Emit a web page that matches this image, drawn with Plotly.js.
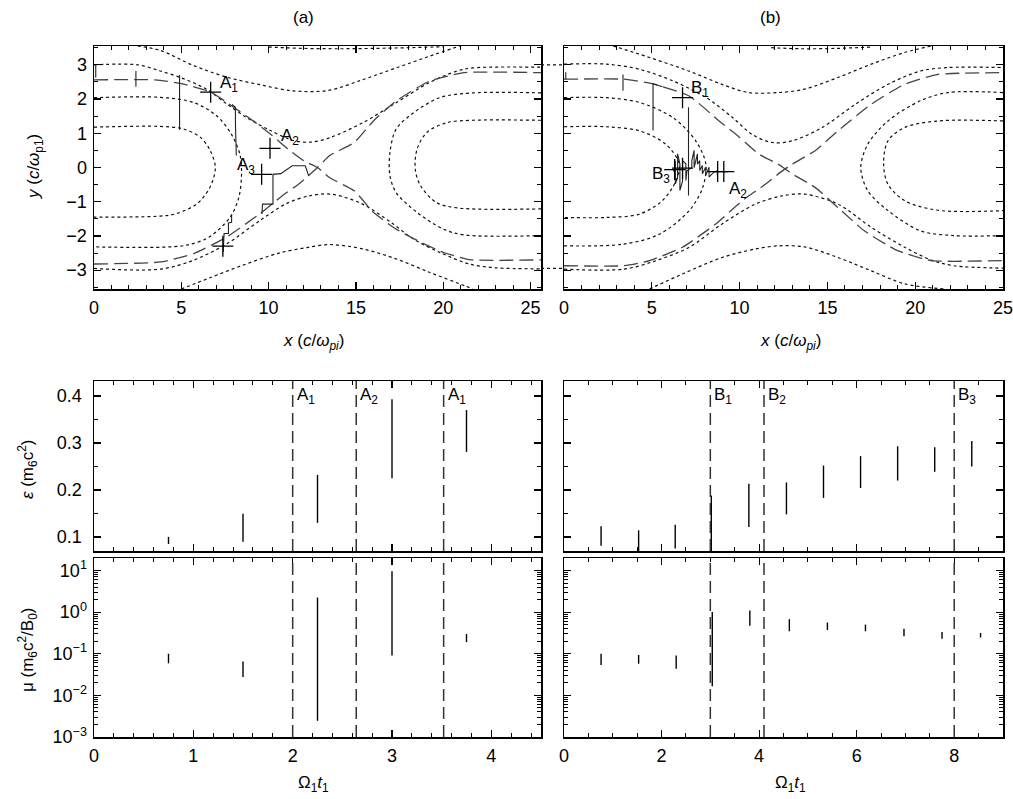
<!DOCTYPE html>
<html><head><meta charset="utf-8">
<script src="https://cdn.plot.ly/plotly-3.0.1.min.js"></script>
<style>html,body{margin:0;padding:0;background:#fff}#plot{width:1013px;height:799px}</style>
</head><body><div id="plot"></div>
<script>
// ---------- Panel (a): field lines (dotted), separatrix (dashed), trajectory ----------
const aTopOuterX = [2.5,3.8,5.7,7.6,9.5,11.4,13.4,15.3,17.3,19.2,21.0];
const aTopOuterY = [3.55,3.42,2.98,2.64,2.42,2.24,2.25,2.55,2.91,3.25,3.56];
const aTopEdgeX = [10.0,12.0,14.0,16.0,18.0,20.0];
const aTopEdgeY = [3.52,3.48,3.47,3.48,3.50,3.53];
const aO1UpX = [0,2.5,3.8,5.0,6.4,7.6,8.7,10.1,11.4,12.4,13.5,15.4,17.3,19.2,20.8,21.7,25.6];
const aO1UpY = [3.0,3.0,2.82,2.62,2.3,1.86,1.47,1.08,0.79,0.74,0.87,1.31,1.89,2.48,2.82,2.91,2.93];
const aC2X = [0,3.8,5.7,7.0,7.8,8.35,8.45,8.3,7.8,6.6,5.3,3.8,0];
const aC2Y = [2.04,2.05,1.9,1.52,1.03,0.4,-0.18,-0.86,-1.45,-2.03,-2.27,-2.33,-2.32];
const aC1X = [0,3.8,5.1,6.1,6.65,6.95,6.65,5.9,4.7,3.8,0];
const aC1Y = [1.18,1.2,1.13,0.88,0.5,0.0,-0.57,-1.06,-1.35,-1.42,-1.45];
const aO1LowX = [0,3.8,5.7,7.6,9.5,11.0,12.4,13.6,15.3,17.0,18.3,19.8,21.5,23.0,25.6];
const aO1LowY = [-2.95,-2.97,-2.71,-2.23,-1.55,-1.06,-0.82,-0.78,-1.05,-1.6,-2.09,-2.48,-2.82,-2.93,-2.96];
const aBotOuterX = [5.0,6.6,8.6,10.6,12.2,13.5,15.4,17.3,19.2,21.2,21.7];
const aBotOuterY = [-3.55,-3.23,-2.84,-2.5,-2.34,-2.25,-2.38,-2.67,-3.06,-3.45,-3.55];
const aR2X = [25.6,21.7,19.8,18.3,17.3,16.95,16.95,17.3,18.5,20.0,21.2,25.6];
const aR2Y = [2.18,2.18,2.04,1.6,1.12,0.44,-0.24,-0.73,-1.31,-1.8,-1.97,-1.99];
const aR1X = [25.6,21.7,20.2,19.05,18.5,18.4,18.7,19.6,20.8,25.6];
const aR1Y = [1.38,1.38,1.31,1.02,0.53,-0.05,-0.53,-1.02,-1.18,-1.21];
const aSepULX = [0,3.5,5.0,6.7,8.0,9.1,10.1,11.2,12.0,12.8,13.5,14.9,16.0,17.3,18.7,20.0,21.5,25.6];
const aSepULY = [2.56,2.56,2.45,2.2,1.76,1.37,0.98,0.5,0.2,0.0,-0.3,-0.68,-1.31,-1.8,-2.18,-2.48,-2.69,-2.70];
const aSepLLX = [0,3.8,5.7,7.6,9.5,10.7,11.8,12.8,13.5,14.9,16.0,17.3,19.2,21.2,25.6];
const aSepLLY = [-2.82,-2.76,-2.52,-2.03,-1.35,-0.86,-0.45,0.0,0.35,0.73,1.36,1.94,2.52,2.77,2.77];
const aTrajX = [0.1,0.1,null,2.4,2.4,null,4.9,4.9,null,7.9,8.1,8.1,8.15,null,7.4,7.42,7.45,7.7,7.7,7.88,7.88,null,9.62,9.65,10.25,10.25,10.7,11.1,11.35,12.1,12.3];
const aTrajY = [3.0,2.62,null,2.82,2.36,null,2.7,1.1,null,1.84,1.76,1.3,0.35,null,-2.47,-2.13,-1.93,-1.93,-1.62,-1.6,-1.38,null,-1.36,-1.07,-1.07,-0.2,-0.18,-0.04,0.05,0.05,-0.25];
const aCrossX = [6.68,10.08,9.6,7.38];
const aCrossY = [2.2,0.56,-0.2,-2.3];
const aLabelText = ['A<sub>1</sub>','A<sub>2</sub>','A<sub>3</sub>'];
const aLabelX = [7.1,10.6,9.35];
const aLabelY = [2.45,0.88,0.05];
const aLabelAnchor = ['left','left','right'];

// ---------- Panel (b) ----------
const bTopOuterX = [2.8,4.3,7.1,9.0,10.5,12.2,13.7,15.6,17.5,19.4,20.9];
const bTopOuterY = [3.55,3.31,2.82,2.43,2.19,2.19,2.29,2.63,3.02,3.36,3.55];
const bTopEdgeX = [11.8,13.5,15.5,17.5];
const bTopEdgeY = [3.5,3.47,3.48,3.52];
const bO1UpX = [0,2.4,4.3,6.2,8.1,9.6,10.7,11.85,13.0,14.7,16.6,18.45,20.3,21.85,25];
const bO1UpY = [3.02,3.02,2.87,2.53,2.04,1.46,0.97,0.73,0.78,1.17,1.85,2.43,2.82,2.92,2.92];
const bSepULX = [0,3.4,5.0,7.13,8.83,10.0,11.1,12.2,13.0,14.3,15.6,17.1,19.0,20.9,25];
const bSepULY = [2.58,2.58,2.45,2.09,1.36,0.88,0.39,0.1,-0.19,-0.58,-1.17,-1.85,-2.43,-2.72,-2.72];
const bSepLLX = [0,3.4,4.87,6.75,8.64,10.15,11.47,12.3,13.0,14.3,15.6,17.5,19.4,21.3,25];
const bSepLLY = [-2.87,-2.87,-2.72,-2.33,-1.65,-0.97,-0.49,-0.15,0.1,0.49,1.07,1.85,2.43,2.72,2.77];
const bC2X = [0,2.4,4.3,6.2,7.5,8.08,7.9,7.13,5.43,3.36,0];
const bC2Y = [2.04,2.04,1.9,1.46,0.78,0.1,-0.58,-1.26,-1.95,-2.24,-2.29];
const bC1X = [0,2.4,4.3,5.8,6.57,6.38,5.6,4.3,2.4,0];
const bC1Y = [1.19,1.19,1.07,0.68,0.1,-0.39,-0.97,-1.36,-1.46,-1.46];
const bO1LowX = [0,3.4,5.25,7.13,9.0,10.9,12.4,13.7,15.6,17.5,19.4,21.0,22.2,25];
const bO1LowY = [-2.97,-2.97,-2.72,-2.33,-1.65,-1.07,-0.83,-0.78,-1.07,-1.75,-2.33,-2.72,-2.87,-2.94];
const bBotOuterX = [4.87,6.75,9.0,10.9,12.2,13.7,15.6,17.5,19.4,21.7];
const bBotOuterY = [-3.55,-3.11,-2.63,-2.38,-2.29,-2.32,-2.63,-3.02,-3.4,-3.55];
const bR2X = [25,21.85,20.3,18.45,17.3,16.9,17.3,18.45,20.3,22.2,25];
const bR2Y = [2.19,2.19,1.95,1.36,0.68,0.0,-0.68,-1.26,-1.85,-1.99,-1.99];
const bR1X = [25,21.3,19.4,18.45,18.2,18.45,19.4,21.3,25];
const bR1Y = [1.36,1.36,1.17,0.78,0.1,-0.49,-0.97,-1.25,-1.26];
const bTrajX = [0.1,0.1,null,3.36,3.36,null,5.6,5.07,5.07,null,7.09,7.09,null,
  6.2,6.34,6.34,6.34,6.47,6.47,6.6,6.6,6.75,6.75,6.94,6.94,7.0,7.28,7.28,7.41,7.41,7.6,7.6,7.73,7.73,7.88,7.88,8.07,8.07,8.26,8.26,8.5,8.73,8.73];
const bTrajY = [2.78,2.58,null,2.72,2.24,null,2.36,2.45,1.08,null,1.76,-0.82,null,
  -0.1,-0.1,0.2,-0.48,-0.3,0.4,0.1,-0.67,-0.4,0.2,0.11,-0.38,-0.1,0.0,0.2,0.5,0.0,0.4,0.1,0.2,-0.09,0.06,-0.18,0.01,-0.23,0.01,-0.28,-0.15,-0.09,-0.23];
const bCrossX = [6.75,6.3,6.75,8.75,9.1];
const bCrossY = [2.04,-0.06,-0.02,-0.12,-0.12];
const bLabelText = ['B<sub>1</sub>','B<sub>3</sub>','A<sub>2</sub>'];
const bLabelX = [7.1,6.15,9.3];
const bLabelY = [2.3,-0.22,-0.66];
const bLabelAnchor = ['left','right','left'];

// field lines that cross the gap between panels (a) and (b)
const gapY = [3.0, -2.95];

// ---------- Lower panels: energy and magnetic moment ranges ----------
const aT = [0.75,1.5,2.25,3.0,3.75];
const aEpsLo = [0.085,0.0895,0.130,0.225,0.281];
const aEpsHi = [0.100,0.1495,0.232,0.393,0.370];
const aMuLo = [0.059,0.0275,0.00245,0.091,0.19];
const aMuHi = [0.100,0.065,2.24,9.6,0.30];
const aEvents = [2.0,2.64,3.52];
const aEventText = ['A<sub>1</sub>','A<sub>2</sub>','A<sub>1</sub>'];

const bT = [0.76,1.53,2.28,3.02,3.79,4.56,5.32,6.08,6.84,7.6,8.36];
const bEpsLo = [0.081,0.07,0.0755,0.07,0.121,0.148,0.183,0.204,0.22,0.239,0.25];
const bEpsHi = [0.1227,0.114,0.126,0.188,0.213,0.216,0.252,0.272,0.293,0.291,0.304];
const bMuT = [0.76,1.53,2.3,3.04,3.81,4.62,5.4,6.18,6.97,7.75,8.54];
const bMuLoExp = [-1.27,-1.24,-1.36,-1.78,-0.33,-0.46,-0.43,-0.46,-0.58,-0.64,-0.61];
const bMuHiExp = [-1.0,-1.03,-1.04,0.0,0.04,-0.17,-0.25,-0.3,-0.4,-0.48,-0.5];
const bEvents = [3.0,4.1,8.0];
const bEventText = ['B<sub>1</sub>','B<sub>2</sub>','B<sub>3</sub>'];

const muTickVals = [0.001,0.01,0.1,1,10];
const muTickText = ['10<sup>−3</sup>','10<sup>−2</sup>','10<sup>−1</sup>','10<sup>0</sup>','10<sup>1</sup>'];
const muDecades = [0.001,0.01,0.1,1,10];
const muMinorDigits = [2,3,4,5,6,7,8,9];

// axis and panel titles
const xTitleTop = '<i>x</i> (<i>c</i>/<i>ω</i><sub><i>pi</i></sub>)';
const yTitleTop = '<i>y</i> (<i>c</i>/<i>ω</i><sub>p1</sub>)';
const yTitleEps = '<i>ε</i> (m<sub>6</sub>c<sup>2</sup>)';
const yTitleMu = 'μ (m<sub>6</sub>c<sup>2</sup>/B<sub>0</sub>)';
const xTitleBottom = 'Ω<sub>1</sub><i>t</i><sub>1</sub>';
const panelTitles = ['(a)','(b)'];

// ---------- build ----------
const FONT = 'Liberation Sans, Arial, sans-serif';
const traces = [];
function add(x, y, xa, ya, line, extra) {
  traces.push(Object.assign({type:'scatter', mode:'lines', x:x, y:y, xaxis:xa, yaxis:ya,
    line:line, hoverinfo:'skip', showlegend:false}, extra||{}));
}
const dotted = {color:'#111', width:1.2, dash:'3px,3px', shape:'spline', smoothing:0.9};
const sepLine = {color:'#444', width:1.3, dash:'14px,6px', shape:'spline', smoothing:0.5};
const traj = {color:'#222', width:1.1};

[[aTopOuterX,aTopOuterY],[aTopEdgeX,aTopEdgeY],[aO1UpX,aO1UpY],[aC2X,aC2Y],[aC1X,aC1Y],
 [aO1LowX,aO1LowY],[aBotOuterX,aBotOuterY],[aR2X,aR2Y],[aR1X,aR1Y]].forEach(p=>add(p[0],p[1],'x','y',dotted));
add(aSepULX,aSepULY,'x','y',sepLine); add(aSepLLX,aSepLLY,'x','y',sepLine);
add(aTrajX,aTrajY,'x','y',traj,{connectgaps:false});
traces.push({type:'scatter',mode:'markers',x:aCrossX,y:aCrossY,xaxis:'x',yaxis:'y',showlegend:false,hoverinfo:'skip',
  marker:{symbol:'cross-thin',size:15,color:'#000',line:{width:1.3,color:'#000'}}});

[[bTopOuterX,bTopOuterY],[bTopEdgeX,bTopEdgeY],[bO1UpX,bO1UpY],[bC2X,bC2Y],[bC1X,bC1Y],
 [bO1LowX,bO1LowY],[bBotOuterX,bBotOuterY],[bR2X,bR2Y],[bR1X,bR1Y]].forEach(p=>add(p[0],p[1],'x2','y2',dotted));
add(bSepULX,bSepULY,'x2','y2',sepLine); add(bSepLLX,bSepLLY,'x2','y2',sepLine);
add(bTrajX,bTrajY,'x2','y2',traj,{connectgaps:false});
traces.push({type:'scatter',mode:'markers',x:bCrossX,y:bCrossY,xaxis:'x2',yaxis:'y2',showlegend:false,hoverinfo:'skip',
  marker:{symbol:'cross-thin',size:15,color:'#000',line:{width:1.3,color:'#000'}}});

function bars(t, lo, hi, xa, ya) {
  const x=[], y=[];
  t.forEach((v,i)=>{x.push(v,v,null); y.push(lo[i],hi[i],null);});
  add(x,y,xa,ya,{color:'#000',width:1.4});
}
bars(aT,aEpsLo,aEpsHi,'x3','y3');
bars(bT,bEpsLo,bEpsHi,'x4','y4');
bars(aT,aMuLo,aMuHi,'x5','y5');
bars(bMuT,bMuLoExp.map(v=>Math.pow(10,v)),bMuHiExp.map(v=>Math.pow(10,v)),'x6','y6');

const W=1013, H=799;
const px = v=>v/W, py = v=>1-v/H;
const colA=[px(94),px(541)], colB=[px(564),px(1003)];
const rowTop=[py(289),py(46)], rowEps=[py(551),py(381)], rowMu=[py(737),py(558)];

function ax(o){
  return Object.assign({showline:true, linecolor:'#000', linewidth:1.5, mirror:'allticks',
    ticks:'inside', ticklen:7, tickwidth:1.2, tickcolor:'#000', showgrid:false, zeroline:false,
    ticklabelstandoff:2, ticklabeloverflow:'allow',
    tickfont:{family:FONT,size:18,color:'#000'}, fixedrange:true}, o);
}
function minor(d,len){return {dtick:d, ticks:'inside', ticklen:len||4, tickwidth:1, tickcolor:'#000', showgrid:false};}
const muMinorVals = [];
muDecades.forEach(d=>muMinorDigits.forEach(k=>muMinorVals.push(d*k)));
const muMinor = {tickvals:muMinorVals, ticks:'inside', ticklen:4, tickwidth:1, tickcolor:'#000', showgrid:false};

const layout = {
  width:W, height:H, margin:{l:0,r:0,t:0,b:0}, paper_bgcolor:'#fff', plot_bgcolor:'#fff',
  showlegend:false, font:{family:FONT,size:16,color:'#000'},
  xaxis: ax({domain:colA, anchor:'y', range:[0,25.6], dtick:5, minor:minor(1)}),
  yaxis: ax({domain:rowTop, anchor:'x', range:[-3.55,3.55], dtick:1, minor:minor(0.5)}),
  xaxis2: ax({domain:colB, anchor:'y2', range:[0,25.0001], tickvals:[0,5,10,15,20,25], minor:minor(1)}),
  yaxis2: ax({domain:rowTop, anchor:'x2', range:[-3.55,3.55], dtick:1, minor:minor(0.5), showticklabels:false}),
  xaxis3: ax({domain:colA, anchor:'y3', range:[0,4.5], dtick:1, minor:minor(0.2), showticklabels:false}),
  yaxis3: ax({domain:rowEps, anchor:'x3', range:[0.07,0.432], dtick:0.1, minor:minor(0.05), tickformat:'.1f', ticklabelstandoff:7}),
  xaxis4: ax({domain:colB, anchor:'y4', range:[0,9], dtick:2, minor:minor(0.5), showticklabels:false}),
  yaxis4: ax({domain:rowEps, anchor:'x4', range:[0.07,0.432], dtick:0.1, minor:minor(0.05), showticklabels:false}),
  xaxis5: ax({domain:colA, anchor:'y5', range:[0,4.5], dtick:1, minor:minor(0.2)}),
  yaxis5: ax({domain:rowMu, anchor:'x5', type:'log', range:[-3,1.3], tickvals:muTickVals, ticktext:muTickText, minor:muMinor}),
  xaxis6: ax({domain:colB, anchor:'y6', range:[0,9], dtick:2, minor:minor(0.5)}),
  yaxis6: ax({domain:rowMu, anchor:'x6', type:'log', range:[-3,1.3], tickvals:muTickVals, showticklabels:false, minor:muMinor}),
  shapes: [], annotations: []
};

const evLine = {color:'#333', width:1.5, dash:'12px,6px'};
aEvents.forEach(v=>{
  layout.shapes.push({type:'line', xref:'x3', yref:'y3 domain', x0:v, x1:v, y0:0, y1:1, line:evLine});
  layout.shapes.push({type:'line', xref:'x5', yref:'y5 domain', x0:v, x1:v, y0:0, y1:1, line:evLine});
});
bEvents.forEach(v=>{
  layout.shapes.push({type:'line', xref:'x4', yref:'y4 domain', x0:v, x1:v, y0:0, y1:1, line:evLine});
  layout.shapes.push({type:'line', xref:'x6', yref:'y6 domain', x0:v, x1:v, y0:0, y1:1, line:evLine});
});
gapY.forEach(v=>{
  layout.shapes.push({type:'line', xref:'paper', yref:'y', x0:colA[1], x1:colB[0], y0:v, y1:v,
    line:{color:'#111', width:1.2, dash:'3px,3px'}});
});

const annFont = {family:FONT,size:17,color:'#000'};
aEvents.forEach((v,i)=>layout.annotations.push({xref:'x3', yref:'y3', x:v, y:0.4, text:aEventText[i],
  showarrow:false, xanchor:'left', xshift:2, font:annFont}));
bEvents.forEach((v,i)=>layout.annotations.push({xref:'x4', yref:'y4', x:v, y:0.4, text:bEventText[i],
  showarrow:false, xanchor:'left', xshift:2, font:annFont}));
aLabelText.forEach((t,i)=>layout.annotations.push({xref:'x', yref:'y', x:aLabelX[i], y:aLabelY[i], text:t,
  showarrow:false, xanchor:aLabelAnchor[i], font:annFont}));
bLabelText.forEach((t,i)=>layout.annotations.push({xref:'x2', yref:'y2', x:bLabelX[i], y:bLabelY[i], text:t,
  showarrow:false, xanchor:bLabelAnchor[i], font:annFont}));

// titles as positioned text
const tFont = {family:FONT,size:17,color:'#000'};
function title(text, x, y, angle) {
  layout.annotations.push({xref:'paper', yref:'paper', x:px(x), y:py(y), xanchor:'center', yanchor:'middle',
    text:text, textangle:angle||0, showarrow:false, font:tFont});
}
title(panelTitles[0], 303, 18); title(panelTitles[1], 770, 18);
title(xTitleTop, 313, 342); title(xTitleTop, 790, 342);
title(yTitleTop, 35, 167, -90);
title(yTitleEps, 27, 470, -90);
title(yTitleMu, 27, 650, -90);
title(xTitleBottom, 313, 784); title(xTitleBottom, 790, 784);

Plotly.newPlot('plot', traces, layout, {displayModeBar:false, staticPlot:true});
</script></body></html>
